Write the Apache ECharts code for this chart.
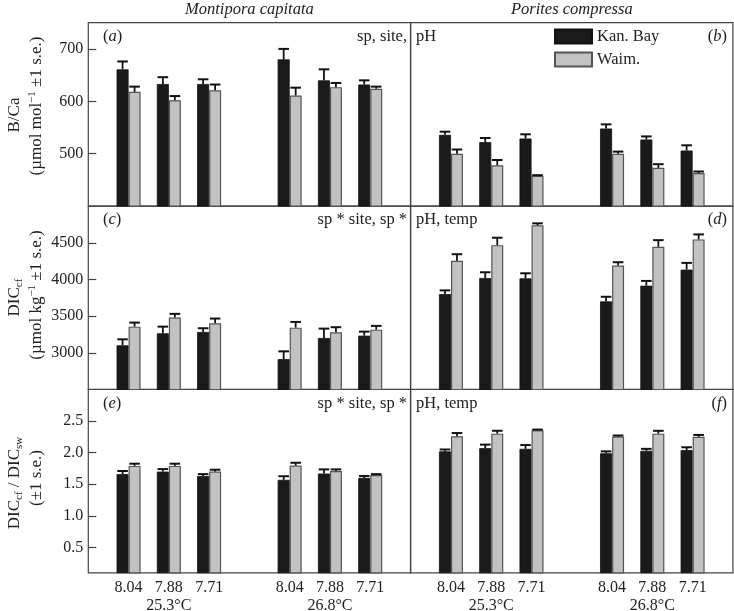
<!DOCTYPE html>
<html><head><meta charset="utf-8">
<script src="https://cdn.jsdelivr.net/npm/echarts@6/dist/echarts.min.js"></script>
<style>html,body{margin:0;padding:0;background:#fff}#c{width:734px;height:611px}</style>
</head><body><div id="c"></div>
<script>
// ---- data ----
const phLabels = ['8.04', '7.88', '7.71', '8.04', '7.88', '7.71'];
const tempLabels = ['25.3°C', '26.8°C'];
const seriesNames = ['Kan. Bay', 'Waim.'];
const speciesNames = ['Montipora capitata', 'Porites compressa'];

// (a) Montipora B/Ca
const kanA = [661, 633, 633, 680, 640, 632];
const kanAErr = [15, 13, 9, 20, 21, 8];
const waiA = [618, 602, 621, 611, 627, 624];
const waiAErr = [10, 8, 11, 15, 8, 4];
// (b) Porites B/Ca
const kanB = [536, 522, 529, 548, 527, 506];
const kanBErr = [6, 8, 8, 8, 6, 10];
const waiB = [500, 478, 458, 500, 473, 463];
const waiBErr = [8, 10, 1, 4, 7, 3];
// (c) Montipora DICcf
const kanC = [3102, 3266, 3284, 2914, 3202, 3234];
const kanCErr = [82, 91, 51, 106, 128, 55];
const waiC = [3357, 3480, 3403, 3343, 3280, 3316];
const waiCErr = [55, 51, 64, 78, 69, 51];
// (d) Porites DICcf
const kanD = [3801, 4020, 4015, 3700, 3915, 4134];
const kanDErr = [50, 78, 69, 64, 65, 92];
const waiD = [4254, 4468, 4738, 4189, 4446, 4546];
const waiDErr = [90, 101, 27, 46, 90, 68];
// (e) Montipora DICcf/DICsw
const kanE = [1.66, 1.70, 1.63, 1.57, 1.67, 1.60];
const kanEErr = [0.05, 0.04, 0.03, 0.057, 0.065, 0.03];
const waiE = [1.79, 1.79, 1.70, 1.795, 1.71, 1.645];
const waiEErr = [0.035, 0.035, 0.03, 0.045, 0.025, 0.015];
// (f) Porites DICcf/DICsw
const kanF = [2.02, 2.07, 2.06, 1.99, 2.03, 2.04];
const kanFErr = [0.03, 0.057, 0.06, 0.03, 0.03, 0.045];
const waiF = [2.26, 2.30, 2.355, 2.256, 2.30, 2.25];
const waiFErr = [0.05, 0.046, 0.01, 0.015, 0.045, 0.03];

// y axis ranges and ticks
const yRangeTop = [400, 750];
const yTicksTop = [500, 600, 700];
const yRangeMid = [2500, 5000];
const yTicksMid = [3000, 3500, 4000, 4500];
const yRangeBot = [0.1, 3.0];
const yTicksBot = [0.5, 1.0, 1.5, 2.0, 2.5];

const statsLeft = ['sp, site,', 'sp * site, sp *', 'sp * site, sp *'];
const statsRight = ['pH', 'pH, temp', 'pH, temp'];
const panelLetters = ['a', 'b', 'c', 'd', 'e', 'f'];

// ---- layout ----
const chart = echarts.init(document.getElementById('c'), null, {renderer: 'canvas'});
const FONT = '"Liberation Serif", "Times New Roman", serif';
const TXT = '#222';
const BAR_W = 12;
const CAP = 5.3;
const slots = [1, 2, 3, 5, 6, 7];
const tempSlots = [2, 6];
const catLabels = Array(9).fill('');
slots.forEach((s, i) => catLabels[s] = phLabels[i]);

const LEFTS = [88.3, 410.7];
const W = 322.2;
const TOPS = [22.7, 206.1, 389.4];
const H = 183.4;

const panels = [
  {kan: kanA, kanErr: kanAErr, wai: waiA, waiErr: waiAErr, range: yRangeTop, ticks: yTicksTop, dec: 0},
  {kan: kanB, kanErr: kanBErr, wai: waiB, waiErr: waiBErr, range: yRangeTop, ticks: yTicksTop, dec: 0},
  {kan: kanC, kanErr: kanCErr, wai: waiC, waiErr: waiCErr, range: yRangeMid, ticks: yTicksMid, dec: 0},
  {kan: kanD, kanErr: kanDErr, wai: waiD, waiErr: waiDErr, range: yRangeMid, ticks: yTicksMid, dec: 0},
  {kan: kanE, kanErr: kanEErr, wai: waiE, waiErr: waiEErr, range: yRangeBot, ticks: yTicksBot, dec: 1},
  {kan: kanF, kanErr: kanFErr, wai: waiF, waiErr: waiFErr, range: yRangeBot, ticks: yTicksBot, dec: 1}
];

const grid = [], xAxis = [], yAxis = [], series = [];

function toSlots(vals) {
  const arr = Array(9).fill(null);
  slots.forEach((s, i) => arr[s] = vals[i]);
  return arr;
}

function errSeries(gi, vals, errs, side) {
  return {
    type: 'custom', xAxisIndex: gi, yAxisIndex: gi, z: 5, silent: true,
    data: vals.map((v, i) => [slots[i], v, v + errs[i]]),
    encode: {x: 0, y: [1, 2]},
    renderItem(params, api) {
      const p0 = api.coord([api.value(0), api.value(1)]);
      const p1 = api.coord([api.value(0), api.value(2)]);
      const x = p0[0] + side * BAR_W / 2;
      const st = {stroke: '#111', lineWidth: 1.8};
      return {type: 'group', children: [
        {type: 'line', shape: {x1: x, y1: p0[1], x2: x, y2: p1[1]}, style: st},
        {type: 'line', shape: {x1: x - CAP, y1: p1[1], x2: x + CAP, y2: p1[1]}, style: {stroke: '#111', lineWidth: 2}}
      ]};
    }
  };
}

panels.forEach((p, gi) => {
  const col = gi % 2, row = Math.floor(gi / 2);
  grid.push({left: LEFTS[col], top: TOPS[row], width: W, height: H, show: true,
    borderColor: '#444', borderWidth: 1.2, backgroundColor: 'transparent', containLabel: false,
    outerBoundsMode: 'none'});
  const bottom = row === 2;
  xAxis.push({
    type: 'category', gridIndex: gi, data: catLabels, boundaryGap: false,
    axisLine: {show: false}, axisTick: {show: false}, splitLine: {show: false},
    axisLabel: {
      show: bottom, interval: 0, margin: 6, color: TXT, fontFamily: FONT, fontSize: 16, lineHeight: 18,
      formatter: (val, idx) => {
        const t = tempSlots.indexOf(idx);
        return t >= 0 ? val + '\n' + tempLabels[t] : val;
      }
    }
  });
  yAxis.push({
    type: 'value', gridIndex: gi, min: p.range[0], max: p.range[1],
    axisLine: {show: false}, splitLine: {show: false},
    axisTick: {show: col === 0, inside: true, length: 8, lineStyle: {color: '#444', width: 1.2}, customValues: p.ticks},
    axisLabel: {show: col === 0, margin: 5, color: TXT, fontFamily: FONT, fontSize: 16, customValues: p.ticks,
      formatter: v => Number(v).toFixed(p.dec)}
  });
  series.push({
    type: 'bar', name: seriesNames[0], xAxisIndex: gi, yAxisIndex: gi, data: toSlots(p.kan),
    barWidth: BAR_W, barGap: '0%', itemStyle: {color: '#1a1a1a', borderColor: '#111', borderWidth: 0.8}, silent: true
  });
  series.push({
    type: 'bar', name: seriesNames[1], xAxisIndex: gi, yAxisIndex: gi, data: toSlots(p.wai),
    barWidth: BAR_W, barGap: '0%', itemStyle: {color: '#c2c2c2', borderColor: '#555', borderWidth: 1.2}, silent: true
  });
  series.push(errSeries(gi, p.kan, p.kanErr, -1));
  series.push(errSeries(gi, p.wai, p.waiErr, 1));
});

// ---- text graphics ----
const graphic = [];
function txt(x, y, text, align, extra) {
  graphic.push({
    type: 'text', x: x, y: y, silent: true, z: 10,
    style: Object.assign({text: text, fill: TXT, fontFamily: FONT, fontSize: 16.5, align: align, verticalAlign: 'middle',
      rich: {i: {fontStyle: 'italic', fontFamily: FONT, fontSize: 16.5, fill: TXT}}}, extra || {})
  });
}
txt(LEFTS[0] + W / 2, 9.5, speciesNames[0], 'center', {fontStyle: 'italic'});
txt(LEFTS[1] + W / 2, 9.5, speciesNames[1], 'center', {fontStyle: 'italic'});
const rowY = [37, 219.5, 403.3];
rowY.forEach((y, r) => {
  txt(103, y, '({i|' + panelLetters[r * 2] + '})', 'left');
  txt(407, y, statsLeft[r], 'right');
  txt(416, y, statsRight[r], 'left');
  txt(727, y, '({i|' + panelLetters[r * 2 + 1] + '})', 'right');
});

function ytitle(x, y, text) {
  graphic.push({
    type: 'text', x: x, y: y, rotation: Math.PI / 2, silent: true,
    style: {text: text, fill: TXT, fontFamily: FONT, fontSize: 17, lineHeight: 20, align: 'center', verticalAlign: 'middle',
      rich: {
        sub: {fontFamily: FONT, fontSize: 11, lineHeight: 11, verticalAlign: 'bottom', fill: TXT},
        sup: {fontFamily: FONT, fontSize: 11, lineHeight: 11, verticalAlign: 'top', fill: TXT},
        n: {fontFamily: FONT, fontSize: 17, lineHeight: 20, fill: TXT}
      }}
  });
}
ytitle(15, 115, '{n|B/Ca}');
ytitle(37, 106, '{n|(µmol mol}{sup|−1}{n| ±1 s.e.)}');
ytitle(15, 297.5, '{n|DIC}{sub|cf}');
ytitle(37, 295, '{n|(µmol kg}{sup|−1}{n| ±1 s.e.)}');
ytitle(15, 483, '{n|DIC}{sub|cf}{n| / DIC}{sub|sw}');
ytitle(37, 478, '{n|(±1 s.e.)}');

const option = {
  animation: false,
  backgroundColor: '#fff',
  grid, xAxis, yAxis, series, graphic,
  legend: {
    data: seriesNames, orient: 'vertical', left: 554, top: 28, padding: 0, itemWidth: 37, itemHeight: 14, itemGap: 6,
    icon: 'rect', selectedMode: false,
    textStyle: {fontFamily: FONT, fontSize: 16.5, color: TXT, lineHeight: 14, padding: [0, 0, 0, 0]}
  }
};
chart.setOption(option);
</script></body></html>
